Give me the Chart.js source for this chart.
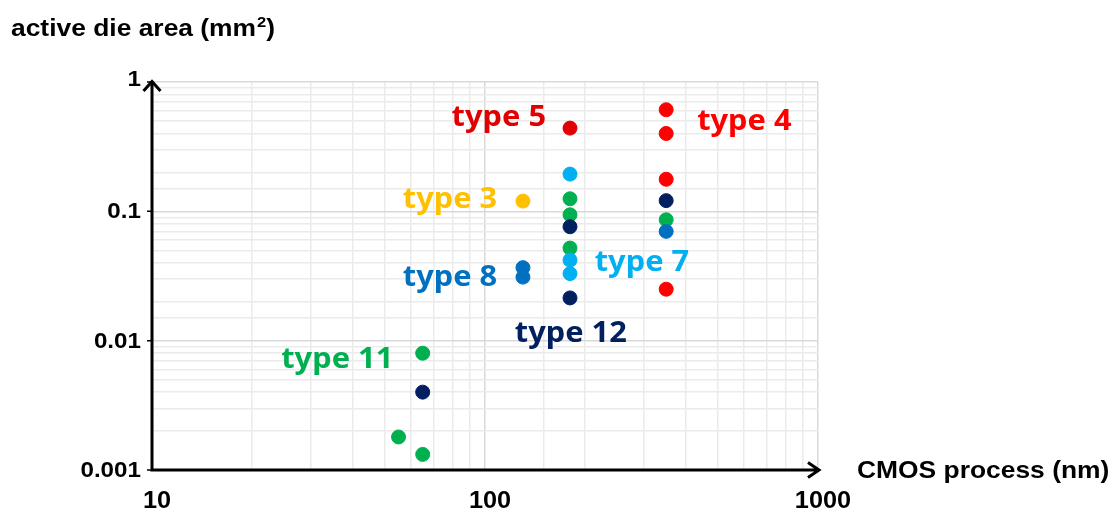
<!DOCTYPE html>
<html>
<head>
<meta charset="utf-8">
<script src="https://cdn.jsdelivr.net/npm/chart.js@4"></script>
<style>
  body { margin: 0; background: #fff; }
</style>
</head>
<body>
<canvas id="myChart" width="1117" height="513"></canvas>
<script>
// process node (nm) and active die area (mm^2) per type
const type7Process = [180, 180, 180];
const type7Area = [0.194, 0.042, 0.033];
const type8Process = [130, 130, 350];
const type8Area = [0.0367, 0.031, 0.070];
const type12Process = [180, 180, 350, 65];
const type12Area = [0.076, 0.0214, 0.121, 0.0040];
const type11Process = [180, 180, 180, 350, 65, 55, 65];
const type11Area = [0.125, 0.094, 0.052, 0.086, 0.0080, 0.0018, 0.00132];
const type3Process = [130];
const type3Area = [0.12];
const type5Process = [180];
const type5Area = [0.44];
const type4Process = [350, 350, 350, 350];
const type4Area = [0.61, 0.40, 0.177, 0.025];

const seriesNames = ['type 7', 'type 8', 'type 12', 'type 11', 'type 3', 'type 5', 'type 4'];
const seriesProcess = [type7Process, type8Process, type12Process, type11Process, type3Process, type5Process, type4Process];
const seriesArea = [type7Area, type8Area, type12Area, type11Area, type3Area, type5Area, type4Area];

const xTicks = [10, 100, 1000];
const yTicks = [0.001, 0.01, 0.1, 1];

// styling
const seriesColors = ['#00B0F0', '#0070C0', '#002060', '#00B050', '#FFC000', '#E00000', '#FF0000'];
// where each series name is written (data coords: label centre / baseline)
const labelPlaces = [[296, 0.0347], [78.5, 0.0266], [181, 0.0098], [36, 0.0062], [78.5, 0.1064], [110, 0.457], [601, 0.426]];
const SX = 1.1; // picture text is a bit wider than tall

function stretchedText(ctx, text, x, y, align) {
  ctx.save();
  ctx.translate(x, y);
  ctx.scale(SX, 1);
  ctx.textAlign = align;
  ctx.fillText(text, 0, 0);
  ctx.restore();
}

function isDecade(v) {
  const l = Math.log10(v);
  return Math.abs(l - Math.round(l)) < 1e-6;
}

const gridColor = (c) => (c.tick && isDecade(c.tick.value)) ? '#d9d9d9' : '#ebebeb';

const decorPlugin = {
  id: 'decor',
  afterDraw(chart) {
    const ctx = chart.ctx;
    const xs = chart.scales.x, ys = chart.scales.y;
    const left = xs.getPixelForValue(10), right = xs.getPixelForValue(1000);
    const top = ys.getPixelForValue(1), bottom = ys.getPixelForValue(0.001);

    // axes with arrows
    ctx.save();
    ctx.strokeStyle = '#000';
    ctx.lineWidth = 3;
    ctx.lineCap = 'butt';
    ctx.beginPath();
    ctx.moveTo(left, bottom + 1.5);
    ctx.lineTo(left, top - 1);
    ctx.moveTo(left - 8.5, top + 9);
    ctx.lineTo(left, top - 0.5);
    ctx.lineTo(left + 8.5, top + 9);
    ctx.moveTo(left - 1.5, bottom);
    ctx.lineTo(right + 1, bottom);
    ctx.moveTo(right - 10, bottom - 7.5);
    ctx.lineTo(right + 1, bottom);
    ctx.lineTo(right - 10, bottom + 7.5);
    ctx.stroke();
    ctx.lineWidth = 1.5;
    ctx.beginPath();
    yTicks.forEach(v => {
      const y = ys.getPixelForValue(v);
      ctx.moveTo(left - 5, y);
      ctx.lineTo(left, y);
    });
    ctx.stroke();

    // tick labels
    ctx.fillStyle = '#000';
    ctx.font = 'bold 22px "Liberation Sans", Arial, sans-serif';
    ctx.textBaseline = 'middle';
    yTicks.forEach(v => {
      const y = ys.getPixelForValue(v);
      stretchedText(ctx, String(v), left - 11, v === 1 ? y - 2 : y + 1, 'right');
    });
    ctx.font = 'bold 23px "Liberation Sans", Arial, sans-serif';
    ctx.textBaseline = 'alphabetic';
    xTicks.forEach(v => {
      stretchedText(ctx, String(v), xs.getPixelForValue(v) + 5, 508, 'center');
    });

    // axis titles
    ctx.font = 'bold 24px "Liberation Sans", Arial, sans-serif';
    const t1 = 'active die area (mm';
    stretchedText(ctx, t1, 11, 36, 'left');
    let w = ctx.measureText(t1).width * SX;
    ctx.font = 'bold 15px "Liberation Sans", Arial, sans-serif';
    stretchedText(ctx, '2', 11 + w + 1, 27, 'left');
    const w2 = ctx.measureText('2').width * SX;
    ctx.font = 'bold 24px "Liberation Sans", Arial, sans-serif';
    stretchedText(ctx, ')', 11 + w + w2 + 1, 36, 'left');
    stretchedText(ctx, 'CMOS process (nm)', 857, 478, 'left');

    // series names
    ctx.font = 'bold 28px "Noto Sans", "Open Sans", sans-serif';
    seriesNames.forEach((name, i) => {
      ctx.fillStyle = seriesColors[i];
      const p = labelPlaces[i];
      stretchedText(ctx, name, xs.getPixelForValue(p[0]), ys.getPixelForValue(p[1]), 'center');
    });
    ctx.restore();
  }
};

const datasets = seriesNames.map((name, i) => ({
  label: name,
  data: seriesProcess[i].map((x, j) => ({ x: x, y: seriesArea[i][j] })),
  backgroundColor: seriesColors[i],
  borderColor: seriesColors[i],
  borderWidth: 1,
  pointRadius: 7,
  pointHoverRadius: 7
}));

const ctx = document.getElementById('myChart');
new Chart(ctx, {
  type: 'scatter',
  data: { datasets: datasets },
  options: {
    responsive: false,
    animation: false,
    layout: { padding: { left: 152, right: 299, top: 82, bottom: 43 } },
    plugins: { legend: { display: false }, tooltip: { enabled: false } },
    scales: {
      x: {
        type: 'logarithmic',
        min: 10,
        max: 1000,
        ticks: { display: false },
        grid: { color: gridColor, lineWidth: 1.5, drawTicks: false },
        border: { display: false },
        afterFit: s => { s.height = 0; }
      },
      y: {
        type: 'logarithmic',
        min: 0.001,
        max: 1,
        ticks: { display: false },
        grid: { color: gridColor, lineWidth: 1.5, drawTicks: false },
        border: { display: false },
        afterFit: s => { s.width = 0; }
      }
    }
  },
  plugins: [decorPlugin]
});
</script>
</body>
</html>
